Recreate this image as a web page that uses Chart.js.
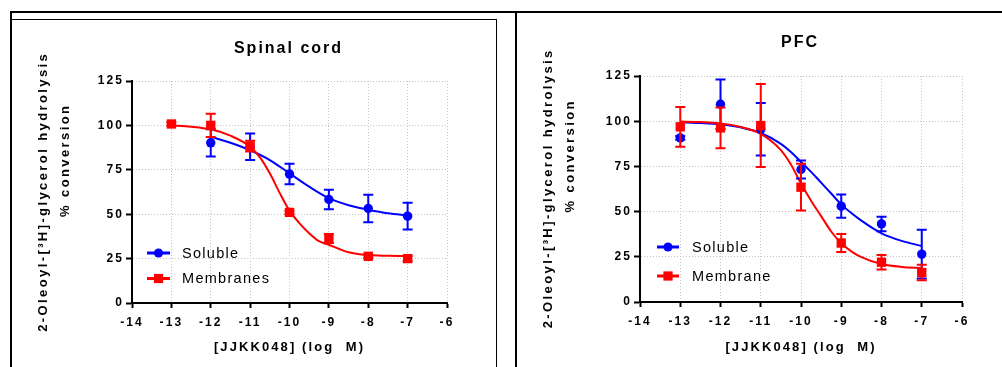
<!DOCTYPE html>
<html><head><meta charset="utf-8">
<script src="https://cdn.jsdelivr.net/npm/chart.js@4.4.1/dist/chart.umd.min.js"></script>
<style>
html,body{margin:0;padding:0;background:#fff;width:1002px;height:367px;overflow:hidden;}
.wrap{position:absolute;top:0;height:367px;}
.ln{position:absolute;background:#000;}
canvas{display:block;}
</style></head><body>
<div class="wrap" style="left:0;width:506px"><canvas id="c1" width="506" height="367"></canvas></div>
<div class="wrap" style="left:506px;width:496px"><canvas id="c2" width="496" height="367"></canvas></div>
<div class="ln" style="left:10px;top:11px;width:992px;height:2px"></div>
<div class="ln" style="left:10px;top:11px;width:2px;height:356px"></div>
<div class="ln" style="left:12px;top:19px;width:485px;height:1px"></div>
<div class="ln" style="left:496px;top:19px;width:1px;height:348px"></div>
<div class="ln" style="left:515px;top:12px;width:2px;height:355px"></div>
<script>
// ---------- data ----------
const logDose = [-13, -12, -11, -10, -9, -8, -7];
const xTickValues = [-14, -13, -12, -11, -10, -9, -8, -7, -6];
const yTickValues = [0, 25, 50, 75, 100, 125];

// Spinal cord
const scSolubleMean = [null, 90.2, 88.0, 72.6, 58.3, 53.2, 48.9];
const scSolubleErr  = [null, 7.7, 7.5, 5.8, 5.5, 7.7, 7.5];
const scMembraneMean = [100.8, 100.0, 88.3, 51.0, 36.3, 26.3, 25.0];
const scMembraneErr  = [1.0, 6.5, 3.0, 1.0, 2.5, 1.0, 1.5];
const scSolubleFitX = [-12, -11.5, -11, -10.5, -10, -9.5, -9, -8.5, -8, -7.5, -7];
const scSolubleFit  = [93.6, 90.2, 86.0, 80.5, 73.0, 65.5, 59.0, 55.0, 52.5, 50.5, 49.3];
const scMembraneFitX = [-13, -12.5, -12, -11.5, -11, -10.75, -10.5, -10.25, -10, -9.75, -9.5, -9.25, -9, -8.5, -8, -7.5, -7];
const scMembraneFit  = [100.0, 99.3, 97.8, 94.2, 88.0, 82.0, 73.0, 62.0, 52.0, 45.0, 39.3, 34.8, 32.8, 28.6, 27.0, 26.6, 26.4];

// PFC
const pfcSolubleMean = [90.8, 109.4, 95.5, 73.3, 53.0, 43.2, 26.5];
const pfcSolubleErr  = [1.0, 13.7, 14.5, 5.0, 6.4, 4.0, 13.5];
const pfcMembraneMean = [96.9, 96.3, 97.6, 63.5, 32.6, 22.0, 16.3];
const pfcMembraneErr  = [11.0, 11.3, 23.0, 12.9, 5.0, 4.0, 4.3];
const pfcFitX = [-13, -12.5, -12, -11.5, -11, -10.5, -10.25, -10, -9.75, -9.5, -9.25, -9, -8.75, -8.5, -8, -7.5, -7];
const pfcSolubleFit  = [99.4, 99.0, 98.3, 96.6, 93.5, 87.5, 83.0, 77.5, 72.0, 66.0, 60.0, 54.0, 49.2, 45.0, 38.0, 33.8, 31.0];
const pfcMembraneFit = [99.8, 99.5, 98.8, 96.8, 93.0, 84.0, 76.0, 65.5, 56.0, 47.5, 39.0, 32.5, 28.0, 24.8, 21.0, 19.4, 18.8];

const xTitle = '[JJKK048] (log  M)';
const yTitleLines = ['2-Oleoyl-[\u00B3H]-glycerol hydrolysis', '% conversion'];

// ---------- drawing ----------
const FONT = "'Liberation Sans', Arial, Helvetica, sans-serif";
const BLUE = '#0000ff', RED = '#ff0000', GRID = '#c4c4c4';

function pts(xs, ys) { return xs.map((x, i) => ({x: x, y: ys[i]})); }

const decor = {
  id: 'decor',
  beforeDraw(chart) { chart.ctx.letterSpacing = '2.1px'; },
  beforeDatasetDraw(chart, args) {
    const ds = chart.data.datasets[args.index];
    if (!ds.errors) return;
    const ctx = chart.ctx, xs = chart.scales.x, ys = chart.scales.y;
    ctx.save();
    ctx.strokeStyle = ds.borderColor; ctx.lineWidth = 2;
    ds.data.forEach((p, i) => {
      const e = ds.errors[i];
      if (p.y == null || e == null) return;
      const px = xs.getPixelForValue(p.x);
      const y1 = ys.getPixelForValue(p.y + e), y2 = ys.getPixelForValue(p.y - e);
      ctx.beginPath();
      ctx.moveTo(px, y1); ctx.lineTo(px, y2);
      ctx.moveTo(px - 5, y1); ctx.lineTo(px + 5, y1);
      ctx.moveTo(px - 5, y2); ctx.lineTo(px + 5, y2);
      ctx.stroke();
    });
    ctx.restore();
  },
  afterDraw(chart, args, o) {
    const ctx = chart.ctx;
    ctx.save();
    ctx.fillStyle = '#000';
    ctx.textBaseline = 'middle';
    // title
    ctx.font = 'bold 16px ' + FONT;
    ctx.letterSpacing = '2px';
    ctx.textAlign = 'center';
    ctx.fillText(o.title, o.titleX + 1, o.titleY);
    // y title
    ctx.font = 'bold 13px ' + FONT;
    ctx.letterSpacing = '2.4px';
    yTitleLines.forEach((t, i) => {
      ctx.save();
      ctx.translate(o.yTitlePos[i][0], o.yTitlePos[i][1]);
      ctx.rotate(-Math.PI / 2);
      ctx.fillText(t, 1.2, 0);
      ctx.restore();
    });
    // legend
    ctx.font = '14.5px ' + FONT;
    ctx.letterSpacing = '1.3px';
    ctx.textAlign = 'left';
    o.legend.forEach(item => {
      const ds = chart.data.datasets[item.ds];
      ctx.strokeStyle = ds.borderColor; ctx.fillStyle = ds.backgroundColor;
      ctx.lineWidth = 3;
      ctx.beginPath(); ctx.moveTo(item.x1, item.y); ctx.lineTo(item.x2, item.y); ctx.stroke();
      const mx = (item.x1 + item.x2) / 2;
      if (ds.pointStyle === 'rect') {
        ctx.fillRect(mx - 4.6, item.y - 4.6, 9.2, 9.2);
      } else {
        ctx.beginPath(); ctx.arc(mx, item.y, 4.6, 0, Math.PI * 2); ctx.fill();
      }
      ctx.fillStyle = '#000';
      ctx.fillText(ds.label, item.tx, item.ty);
    });
    ctx.restore();
  }
};

function makeChart(id, c) {
  return new Chart(document.getElementById(id), {
    type: 'scatter',
    data: { datasets: [
      {label: c.memLabel, data: pts(logDose, c.memMean), errors: c.memErr, showLine: false,
       pointStyle: 'rect', pointRadius: 6.6, backgroundColor: RED, borderColor: RED, borderWidth: 0, order: 1},
      {label: 'Soluble', data: pts(logDose, c.solMean), errors: c.solErr, showLine: false,
       pointStyle: 'circle', pointRadius: 4.7, backgroundColor: BLUE, borderColor: BLUE, borderWidth: 0, order: 2},
      {label: 'fitM', data: pts(c.memFitX, c.memFit), showLine: true, pointRadius: 0,
       borderColor: RED, backgroundColor: RED, borderWidth: 2, cubicInterpolationMode: 'monotone', order: 3},
      {label: 'fitS', data: pts(c.solFitX, c.solFit), showLine: true, pointRadius: 0,
       borderColor: BLUE, backgroundColor: BLUE, borderWidth: 2, cubicInterpolationMode: 'monotone', order: 4}
    ]},
    options: {
      responsive: false, animation: false, devicePixelRatio: 1, events: [],
      layout: { padding: {left: 0, top: c.top, right: c.right, bottom: 0} },
      plugins: {
        legend: {display: false}, tooltip: {enabled: false},
        decor: c.decor
      },
      scales: {
        x: {
          type: 'linear', min: -14, max: -6,
          afterBuildTicks: s => { s.ticks = xTickValues.map(v => ({value: v})); },
          afterFit: s => { s.height = c.xH; },
          grid: {color: GRID, lineWidth: 1, drawTicks: true, tickLength: 5, tickWidth: 2, tickColor: '#000'},
          border: {display: true, color: '#000', width: 2, dash: [1, 2]},
          ticks: {autoSkip: false, maxRotation: 0, minRotation: 0, padding: 7.5, color: '#000',
                  font: {family: FONT, size: 12, weight: 'bold'}, callback: v => String(v)},
          title: {display: true, text: xTitle, color: '#000', font: {family: FONT, size: 13, weight: 'bold'},
                  padding: {top: 0, bottom: 11.5}}
        },
        y: {
          type: 'linear', min: 0, max: 125,
          afterBuildTicks: s => { s.ticks = yTickValues.map(v => ({value: v})); },
          afterFit: s => { s.width = c.yW; },
          grid: {color: GRID, lineWidth: 1, drawTicks: true, tickLength: 6, tickWidth: 2, tickColor: '#000'},
          border: {display: true, color: '#000', width: 2, dash: [1, 2]},
          ticks: {padding: 2, color: '#000', font: {family: FONT, size: 12, weight: 'bold'}, callback: v => String(v)},
          title: {display: false}
        }
      }
    },
    plugins: [decor]
  });
}

makeChart('c1', {
  memLabel: 'Membranes',
  memMean: scMembraneMean, memErr: scMembraneErr, solMean: scSolubleMean, solErr: scSolubleErr,
  memFitX: scMembraneFitX, memFit: scMembraneFit, solFitX: scSolubleFitX, solFit: scSolubleFit,
  top: 81, right: 59, xH: 64, yW: 132,
  decor: {
    title: 'Spinal cord', titleX: 287.5, titleY: 49,
    yTitlePos: [[43, 193], [65, 161.5]],
    legend: [
      {ds: 1, x1: 147, x2: 170, y: 253, tx: 182, ty: 254},
      {ds: 0, x1: 147, x2: 170, y: 278.5, tx: 182, ty: 279}
    ]
  }
});

makeChart('c2', {
  memLabel: 'Membrane',
  memMean: pfcMembraneMean, memErr: pfcMembraneErr, solMean: pfcSolubleMean, solErr: pfcSolubleErr,
  memFitX: pfcFitX, memFit: pfcMembraneFit, solFitX: pfcFitX, solFit: pfcSolubleFit,
  top: 76, right: 40, xH: 65, yW: 134,
  decor: {
    title: 'PFC', titleX: 293, titleY: 43,
    yTitlePos: [[42, 189.5], [64, 157]],
    legend: [
      {ds: 1, x1: 151, x2: 173, y: 247, tx: 186, ty: 248},
      {ds: 0, x1: 151, x2: 173, y: 276, tx: 186, ty: 276.5}
    ]
  }
});
</script>
</body></html>
